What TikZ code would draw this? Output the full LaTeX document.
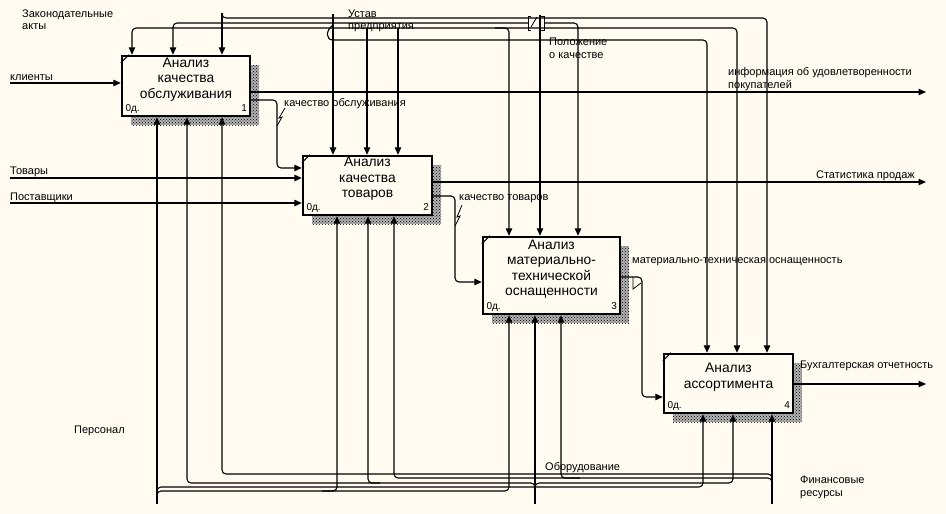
\documentclass[tikz,border=0pt]{standalone}
\usepackage{fontspec}
\setmainfont{Liberation Sans}
\usetikzlibrary{arrows.meta,positioning,patterns,calc}
\definecolor{IdefPaper}{HTML}{FFFBF0}
\definecolor{IdefInk}{HTML}{000000}
\tikzset{
    % Function blocks
    funcbox/.style={
        rectangle,
        draw=IdefInk,
        line width=2.4pt,
        fill=IdefPaper,
        inner sep=0pt
    },
    funcshadow/.style={
        fill=IdefInk!30,
        postaction={pattern=crosshatch dots, pattern color=IdefInk}
    },
    boxtitle/.style={
        align=center,
        inner sep=0pt,
        font=\fontsize{13.8}{15.5}\selectfont
    },
    boxcorner/.style={
        inner sep=0pt,
        font=\fontsize{10}{12}\selectfont
    },
    arrowlbl/.style={
        align=left,
        inner sep=0pt,
        font=\fontsize{11}{13}\selectfont
    },
    flow/.style={
        -{Triangle[length=7.5pt,width=6.5pt]},
        line width=1.1pt,
        draw=IdefInk,
        rounded corners=4pt
    },
    squiggle/.style={
        line width=0.8pt,
        draw=IdefInk
    }
}

\begin{document}
\begin{tikzpicture}[x=1pt, y=-1pt]
        \fill[IdefPaper] (0,0) rectangle (946,514);
        \useasboundingbox (0,0) rectangle (946,514);

        % Shadows
        \fill[funcshadow] (131,65) rectangle (259,125);
        \fill[funcshadow] (312,165) rectangle (441,224);
        \fill[funcshadow] (492,246) rectangle (629,323);
        \fill[funcshadow] (673,363) rectangle (802,422);

        % Function blocks
        \node[funcbox, minimum width=128pt, minimum height=60pt] (b1) at (186,86) {};
        \node[funcbox, minimum width=129pt, minimum height=59pt] (b2) at (367.5,185.5) {};
        \node[funcbox, minimum width=137pt, minimum height=77pt] (b3) at (551.5,275.5) {};
        \node[funcbox, minimum width=129pt, minimum height=59pt] (b4) at (728.5,383.5) {};

        \node[boxtitle] (t1) at ([yshift=6.5pt]b1.center) {Анализ\\качества\\обслуживания};
        \node[boxtitle] (t2) at ([yshift=6.5pt]b2.center) {Анализ\\качества\\товаров};
        \node[boxtitle] (t3) at ([yshift=6.5pt]b3.center) {Анализ\\материально-\\технической\\оснащенности};
        \node[boxtitle] (t4) at ([yshift=6.5pt]b4.center) {Анализ\\ассортимента};

        \foreach \n in {1,2,3,4}{
            \draw[line width=1pt] ([yshift=-8pt]b\n.north west) -- ([xshift=8pt]b\n.north west);
            \node[boxcorner, anchor=base west] (c\n) at ([shift={(4.5pt,5.5pt)}]b\n.south west) {0д.};
            \node[boxcorner, anchor=base east] (n\n) at ([shift={(-4pt,5.5pt)}]b\n.south east) {\n};
        }

        % Free ends
        \coordinate (zak) at (222,13);
        \coordinate (ust) at (333,14);
        \coordinate (pol) at (540,15);
        \coordinate (pers) at (157,504);
        \coordinate (obor) at (535,504);
        \coordinate (fin) at (772,504);
        \coordinate (klient) at (10,83);
        \coordinate (tovar) at (10,178);
        \coordinate (post) at (10,203);
        \coordinate (infoend) at (926,92);
        \coordinate (statend) at (926,182);
        \coordinate (buhend) at (926,384);

        % Inputs and outputs
        \draw[flow] (klient) -- (klient -| b1.west);
        \draw[flow] (tovar) -- (tovar -| b2.west);
        \draw[flow] (post) -- (post -| b2.west);
        \draw[flow] (infoend -| b1.east) -- (infoend);
        \draw[flow] (statend -| b2.east) -- (statend);
        \draw[flow] (buhend -| b4.east) -- (buhend);
        \draw[flow] (b1.east |- 0,100) -| (277,168) -- (b2.west |- 0,168);
        \draw[flow] (b2.east |- 0,196) -| (455,282) -- (b3.west |- 0,282);
        \draw[flow] (b3.east |- 0,277) -| (642,397) -- (b4.west |- 0,397);

        % Controls
        \draw[flow] (zak) -- (zak |- b1.north);
        \draw[flow] (zak) |- (767,18) -- (767,18 |- b4.north);
        \draw[flow] (ust) -- (ust |- b2.north);
        \draw[flow] (ust |- 0,28) -| (132,28 |- b1.north);
        \draw[flow] (ust |- 0,28) -| (737,28 |- b4.north);
        \draw[flow] (367,28) -- (367,28 |- b2.north);
        \draw[flow] (398,28) -- (398,28 |- b2.north);
        \draw[flow] (495,28) -| (509,28 |- b3.north);
        \draw[flow] (333,25) .. controls (325,31) and (326,40) .. (337,40) -| (707,40 |- b4.north);
        \draw[flow] (pol) -- (pol |- b3.north);
        \draw[flow] (528,23) -| (173,23 |- b1.north);
        \draw[flow] (544,23) -| (578,23 |- b3.north);
        \draw[squiggle] (531,16) -- (528,16) -- (528,30) -- (531,30);
        \draw[squiggle] (541,16) -- (544,16) -- (544,30) -- (541,30);
        \draw[squiggle] (531,27) -- (537,17);

        % Mechanisms
        \draw[flow] (pers) -- (pers |- b1.south);
        \draw[flow] (157,499) |- (703,487) -- (703,487 |- b4.south);
        \draw[flow] (157,499) |- (509,491) -- (509,491 |- b3.south);
        \draw[flow] (322,491) -| (337,491 |- b2.south);
        \draw[flow] (obor) -- (obor |- b3.south);
        \draw[flow] (535,491) |- (187,483) -- (187,483 |- b1.south);
        \draw[flow] (535,491) |- (733,483) -- (733,483 |- b4.south);
        \draw[flow] (380,483) -| (368,483 |- b2.south);
        \draw[flow] (fin) -- (fin |- b4.south);
        \draw[flow] (772,486) |- (222,474) -- (222,474 |- b1.south);
        \draw[flow] (772,490) |- (394,478) -- (394,478 |- b2.south);
        \draw[flow] (580,478) -| (561,478 |- b3.south);

        % Label squiggles
        \draw[squiggle] (277,126) -- (282,117) -- (279,118) -- (285,108);
        \draw[squiggle] (455,226) -- (460,216) -- (457,217) -- (462,205);
        \draw[squiggle] (633,277) -- (633,289) -- (641,283);

        % Arrow labels
        \node[arrowlbl, anchor=base west] (lzak) at (22,30) {Законодательные\\акты};
        \node[arrowlbl, anchor=base west] (lust) at (348,30) {Устав\\предприятия};
        \node[arrowlbl, anchor=base west] (lpol) at (549,58) {Положение\\о качестве};
        \node[arrowlbl, anchor=base west] (lklient) at (10,80) {клиенты};
        \node[arrowlbl, anchor=base west] (ltovar) at (10,174) {Товары};
        \node[arrowlbl, anchor=base west] (lpost) at (10,200) {Поставщики};
        \node[arrowlbl, anchor=base west] (linfo) at (728,88) {информация об удовлетворенности\\покупателей};
        \node[arrowlbl, anchor=base east] (lstat) at (915,178) {Статистика продаж};
        \node[arrowlbl, anchor=base west] (lkobs) at (284,106) {качество обслуживания};
        \node[arrowlbl, anchor=base west] (lktov) at (459,200) {качество товаров};
        \node[arrowlbl, anchor=base west] (lmto) at (632,263) {материально-техническая оснащенность};
        \node[arrowlbl, anchor=base west] (lbuh) at (800,368) {Бухгалтерская отчетность};
        \node[arrowlbl, anchor=base west] (lpers) at (74,433) {Персонал};
        \node[arrowlbl, anchor=base west] (lobor) at (545,470) {Оборудование};
        \node[arrowlbl, anchor=base west] (lfin) at (800,496) {Финансовые\\ресурсы};
    \end{tikzpicture}
\end{document}
